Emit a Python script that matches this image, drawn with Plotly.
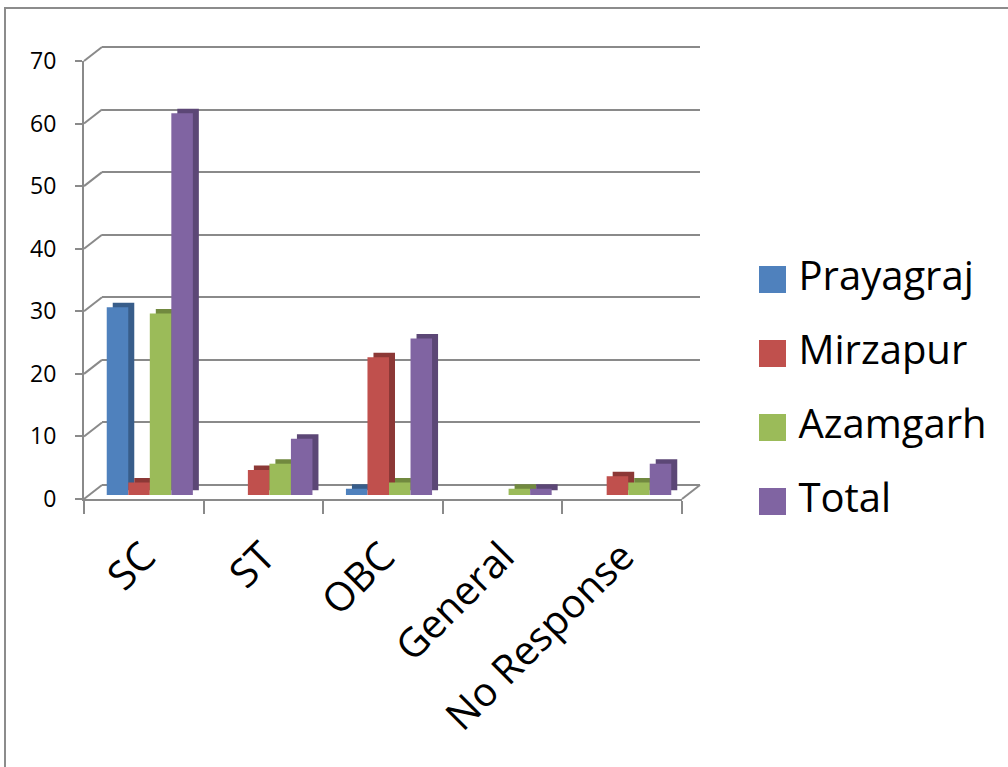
import plotly.graph_objects as go

# ---------------- data ----------------
categories = ["SC", "ST", "OBC", "General", "No Response"]
series_names = ["Prayagraj", "Mirzapur", "Azamgarh", "Total"]
prayagraj = [30, 0, 1, 0, 0]
mirzapur = [2, 4, 22, 0, 3]
azamgarh = [29, 5, 2, 1, 2]
total = [61, 9, 25, 1, 5]
y_ticks = [0, 10, 20, 30, 40, 50, 60, 70]

series_values = [prayagraj, mirzapur, azamgarh, total]

# ---------------- styles ----------------
front_colors = ["#4F81BD", "#C0504D", "#9BBB59", "#8064A2"]
side_colors = ["#385D8A", "#8C3836", "#71893F", "#5C4776"]
GRID = "#8A8A8A"
FONT = "Open Sans"

W, H = 1008, 767


def px(x):
    return x / W


def py(y):
    return 1 - y / H


# front plane of the chart (pixels)
FX0, FX1 = 84, 682
FY0, FYTOP = 499, 61
WALL = (18, -14)       # depth offset of back wall
BAR_FRONT = (6, -4)    # front face of bars
BAR_BACK = (12, -8.5)  # back face of bars


def xdom(d):
    return [px(FX0 + d[0]), px(FX1 + d[0])]


def ydom(d, pad=0.0):
    return [py(FY0 + d[1] + pad), py(FYTOP + d[1] - pad)]


YR = [0, 70]
XR = [-0.5, len(categories) - 0.5]
PXU = (FY0 - FYTOP) / (YR[1] - YR[0])          # pixels per y unit
PAD = 5.0                                       # so the 70 gridline shows
YR_WALL = [YR[0] - PAD / PXU, YR[1] + PAD / PXU]

fig = go.Figure()

# wall (subplot xy) - invisible anchor trace
fig.add_trace(go.Scatter(x=categories, y=[0] * len(categories), mode="markers",
                         marker=dict(opacity=0), hoverinfo="skip",
                         xaxis="x", yaxis="y"))

# back faces of bars (gives depth)
for name, vals, col in zip(series_names, series_values, side_colors):
    fig.add_trace(go.Bar(x=categories, y=vals, name=name, marker_color=col,
                         marker_line_width=0, xaxis="x2", yaxis="y2",
                         hoverinfo="skip"))

# front faces of bars
for name, vals, col in zip(series_names, series_values, front_colors):
    fig.add_trace(go.Bar(x=categories, y=vals, name=name, marker_color=col,
                         marker_line_width=0, xaxis="x3", yaxis="y3"))

# front axis anchor trace
fig.add_trace(go.Scatter(x=categories, y=[0] * len(categories), mode="markers",
                         marker=dict(opacity=0), hoverinfo="skip",
                         xaxis="x4", yaxis="y4"))

# diagonal connectors front axis -> back wall (page-pixel overlay)
diag_x, diag_y = [], []
for t in y_ticks:
    yp = FY0 - t * PXU
    diag_x += [FX0, FX0 + WALL[0], None]
    diag_y += [yp, yp + WALL[1], None]
diag_x += [FX1, FX1 + WALL[0], None]
diag_y += [FY0, FY0 + WALL[1], None]
fig.add_trace(go.Scatter(x=diag_x, y=diag_y, mode="lines",
                         line=dict(color=GRID, width=2),
                         hoverinfo="skip", xaxis="x5", yaxis="y5"))

# manual legend
LEG_X, LEG_Y0, LEG_DY = 772.5, 279.5, 74
leg_y = [LEG_Y0 + LEG_DY * i for i in range(len(series_names))]
fig.add_trace(go.Scatter(x=[LEG_X] * len(series_names), y=leg_y, mode="markers",
                         marker=dict(symbol="square", size=27, color=front_colors,
                                     line=dict(width=0)),
                         hoverinfo="skip", xaxis="x5", yaxis="y5"))
fig.add_trace(go.Scatter(x=[LEG_X + 26] * len(series_names), y=leg_y, mode="text",
                         text=series_names, textposition="middle right",
                         textfont=dict(family=FONT, size=40, color="#000000"),
                         hoverinfo="skip", xaxis="x5", yaxis="y5"))

hidden_x = dict(type="category", categoryarray=categories, range=XR, visible=False,
                fixedrange=True, automargin=False)
hidden_y = dict(range=YR, visible=False, fixedrange=True, automargin=False)

shapes = [
    # outer frame
    dict(type="rect", xref="paper", yref="paper", x0=px(5), x1=1.02,
         y0=-0.02, y1=py(8), line=dict(color="#8C8C8C", width=2),
         fillcolor="rgba(0,0,0,0)", layer="below"),
]

fig.update_layout(
    width=W, height=H,
    margin=dict(l=0, r=0, t=0, b=0, pad=0, autoexpand=False),
    paper_bgcolor="white", plot_bgcolor="rgba(0,0,0,0)",
    showlegend=False,
    barmode="group", bargap=0.28, bargroupgap=0,
    font=dict(family=FONT, color="#000000"),
    xaxis=dict(hidden_x, domain=xdom(WALL), anchor="y"),
    yaxis=dict(range=YR_WALL, domain=ydom(WALL, PAD), anchor="x", tickvals=y_ticks,
               showgrid=True, gridcolor=GRID, gridwidth=2, zeroline=False,
               showticklabels=False, ticks="", showline=False, fixedrange=True,
               automargin=False),
    xaxis2=dict(hidden_x, domain=xdom(BAR_BACK), anchor="y2"),
    yaxis2=dict(hidden_y, domain=ydom(BAR_BACK), anchor="x2"),
    xaxis3=dict(hidden_x, domain=xdom(BAR_FRONT), anchor="y3"),
    yaxis3=dict(hidden_y, domain=ydom(BAR_FRONT), anchor="x3"),
    xaxis4=dict(type="category", categoryarray=categories, range=XR,
                domain=xdom((0, 0)), anchor="y4", showgrid=False,
                showline=True, linecolor=GRID, linewidth=2,
                ticks="outside", ticklen=13, tickwidth=2, tickcolor=GRID,
                tickson="boundaries", tickangle=-45,
                tickfont=dict(family=FONT, size=40, color="#000000"),
                ticklabelstandoff=16, fixedrange=True, automargin=False),
    yaxis4=dict(range=YR, domain=ydom((0, 0)), anchor="x4", tickvals=y_ticks,
                showgrid=False, zeroline=False, showline=True, linecolor=GRID,
                linewidth=2, ticks="outside", ticklen=7, tickwidth=2,
                tickcolor=GRID, tickfont=dict(family=FONT, size=23, color="#000000"),
                ticklabelstandoff=14, fixedrange=True, automargin=False),
    xaxis5=dict(type="linear", range=[0, W], domain=[0, 1], anchor="y5",
                visible=False, fixedrange=True, automargin=False),
    yaxis5=dict(type="linear", range=[H, 0], domain=[0, 1], anchor="x5",
                visible=False, fixedrange=True, automargin=False),
    shapes=shapes,
)

fig.write_html("out.html",
               config={"displayModeBar": False, "staticPlot": True},
               post_script="document.body.style.margin='0';"
                           "document.body.style.padding='0';")
